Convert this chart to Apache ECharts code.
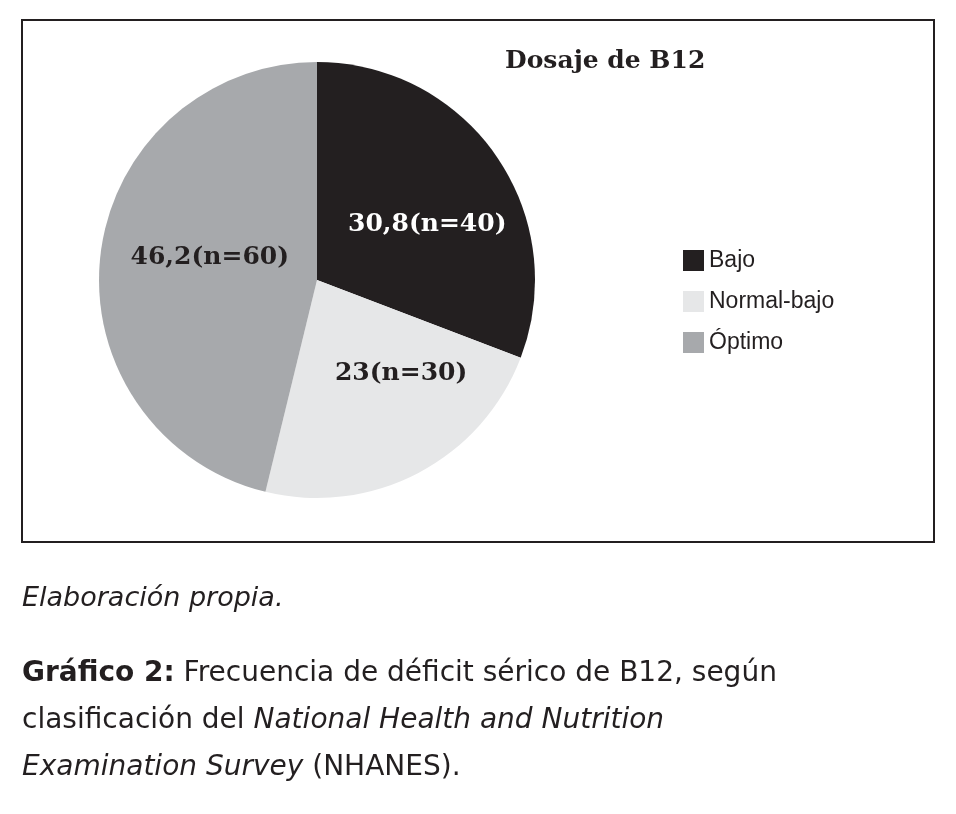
<!DOCTYPE html>
<html><head><meta charset="utf-8">
<script src="https://cdn.jsdelivr.net/npm/echarts@6/dist/echarts.min.js"></script>
<style>html,body{margin:0;padding:0;background:#fff}#c{width:956px;height:814px}</style>
</head><body><div id="c"></div>
<script>
const categories = ['Bajo','Normal-bajo','Óptimo'];
const percents = [30.8, 23, 46.2];
const counts = [40, 30, 60];
const labels = ['30,8(n=40)','23(n=30)','46,2(n=60)'];
const colors = ['#231f20','#e6e7e8','#a7a9ac'];
const chart = echarts.init(document.getElementById('c'));
const serif = '"DejaVu Serif", "Liberation Serif", serif';
const sans = '"DejaVu Sans", "Noto Sans", sans-serif';
chart.setOption({
  animation:false,
  title:{text:'Dosaje de B12',left:500,top:44,textStyle:{fontFamily:serif,fontWeight:'bold',fontSize:25,color:'#231f20'}},
  legend:{orient:'vertical',left:678,top:244,itemWidth:21,itemHeight:21,itemGap:18,
    icon:'rect',textStyle:{fontFamily:'"Liberation Sans", sans-serif',fontSize:23,color:'#231f20',padding:[0,0,0,0]},
    data:categories},
  series:[{type:'pie',center:[317,280],radius:218,startAngle:90,clockwise:true,
    label:{show:true,position:'inside',fontFamily:serif,fontWeight:'bold',fontSize:25,
      formatter:p=>labels[p.dataIndex]},
    labelLine:{show:false},
    itemStyle:{borderWidth:0},
    emphasis:{disabled:true},
    data:categories.map((c,i)=>({name:c,value:percents[i],itemStyle:{color:colors[i]},
      label:{color:i===0?'#fff':'#231f20',offset:i===0?[18,8]:(i===1?[32,-6]:[4,-9])}}))
  }],
  graphic:[
    {type:'rect',shape:{x:22,y:20,width:912,height:522},style:{fill:'none',stroke:'#231f20',lineWidth:2},z:-1},
    {type:'text',left:22,top:585,style:{text:'Elaboración propia.',fontFamily:sans,fontStyle:'italic',fontSize:27,fill:'#231f20'}},
    {type:'text',left:22,top:650,style:{
      text:'{b|Gráfico 2:} Frecuencia de déficit sérico de B12, según\nclasificación del {i|National Health and Nutrition}\n{i|Examination Survey} (NHANES).',
      fontFamily:sans,fontSize:28,lineHeight:47,fill:'#231f20',
      rich:{b:{fontWeight:'bold',fontFamily:sans,fontSize:28,lineHeight:47},i:{fontStyle:'italic',fontFamily:sans,fontSize:28,lineHeight:47}}}}
  ]
});
</script></body></html>
